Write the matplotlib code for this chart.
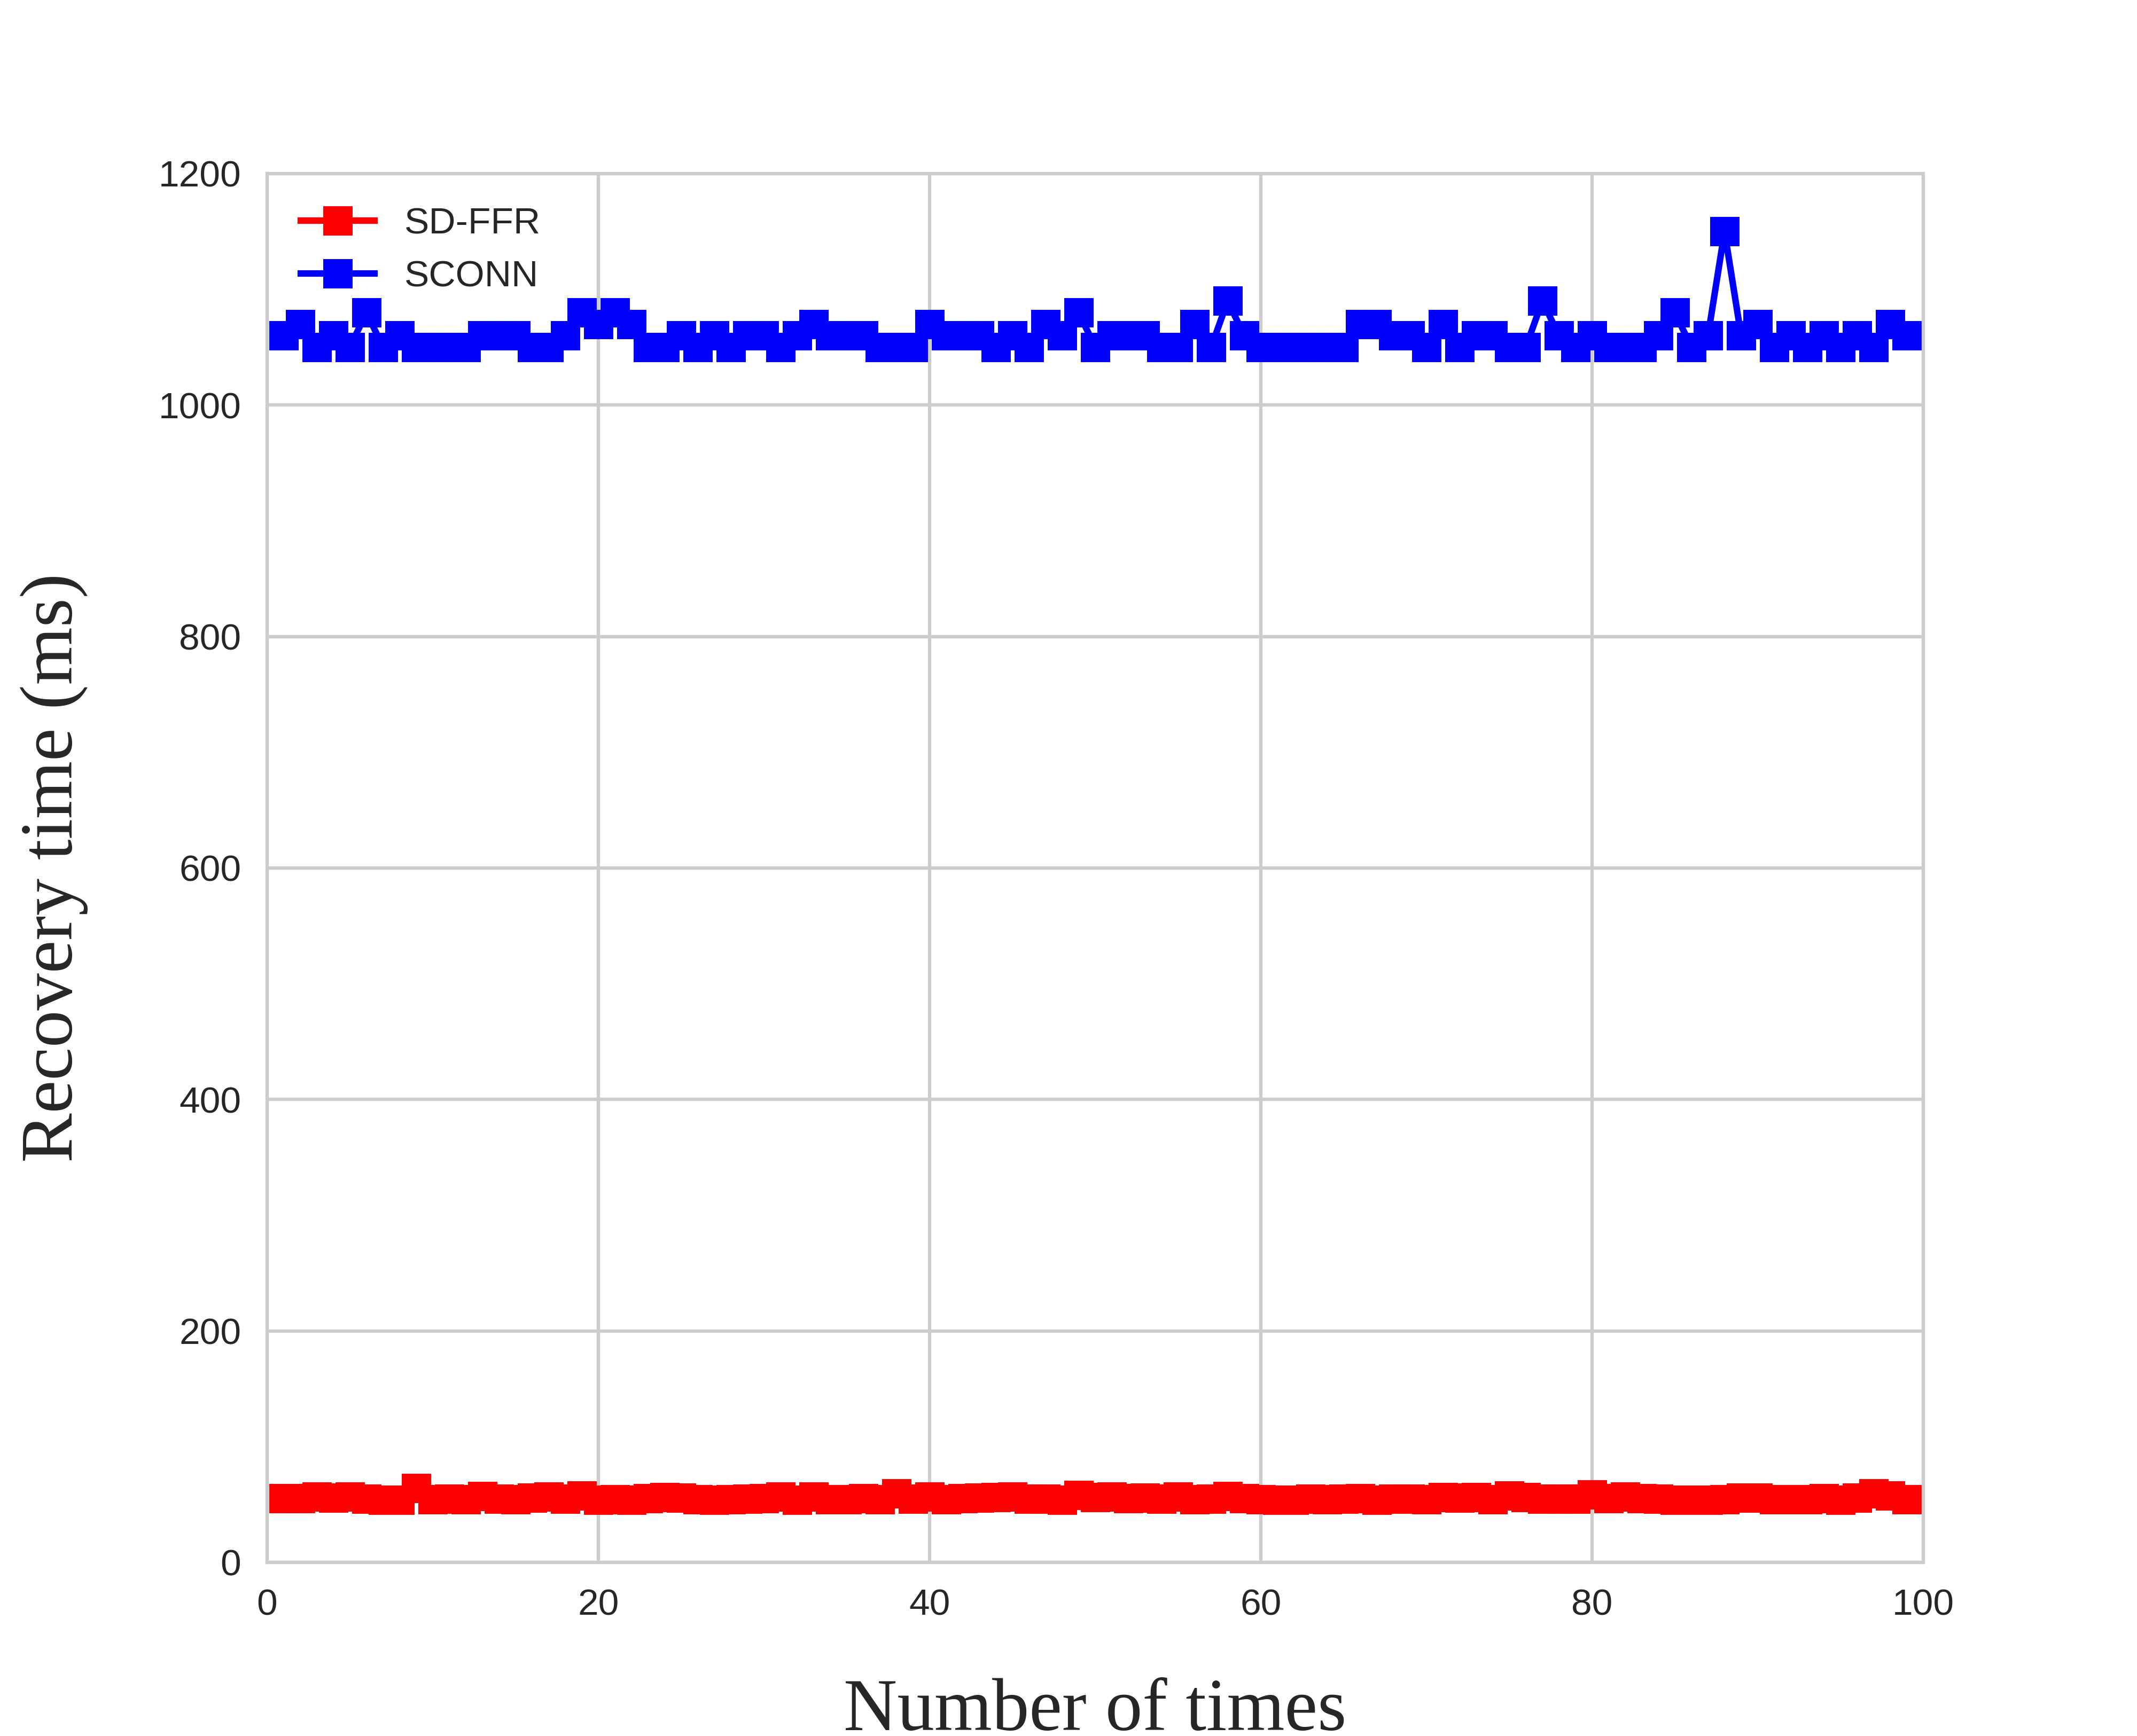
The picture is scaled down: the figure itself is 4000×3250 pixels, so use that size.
import matplotlib
matplotlib.use('Agg')
import matplotlib.pyplot as plt
import numpy as np

# runs 1..99
runs = np.arange(1, 100)

# recovery time (ms) per run
sd_ffr = [55.5, 55.5, 56.8, 55.9, 56.8, 55.0, 54.1, 54.1, 64.2, 54.5,
          55.0, 54.5, 57.2, 55.0, 54.5, 55.9, 56.8, 55.0, 57.7, 54.1,
          54.5, 54.1, 55.5, 56.3, 55.9, 54.5, 54.1, 54.5, 55.0, 55.2,
          56.8, 54.1, 56.8, 54.5, 54.5, 55.4, 54.5, 59.5, 55.0, 56.8,
          54.5, 55.5, 55.9, 56.3, 56.8, 55.0, 55.0, 54.1, 58.2, 56.3,
          56.8, 55.5, 55.9, 55.0, 56.8, 54.5, 55.0, 57.2, 55.5, 54.5,
          54.1, 54.1, 55.0, 54.5, 55.0, 55.5, 54.1, 55.0, 55.0, 54.5,
          56.3, 55.9, 56.3, 54.5, 57.7, 56.3, 55.0, 55.0, 55.0, 58.6,
          55.5, 56.8, 55.5, 55.0, 54.1, 54.1, 54.1, 54.5, 55.9, 55.9,
          54.5, 54.5, 54.5, 55.5, 54.1, 55.9, 59.5, 57.7, 54.5]

sconn = [1060, 1070, 1050, 1060, 1050, 1080, 1050, 1060, 1050, 1050,
         1050, 1050, 1060, 1060, 1060, 1050, 1050, 1060, 1080, 1070,
         1080, 1070, 1050, 1050, 1060, 1050, 1060, 1050, 1060, 1060,
         1050, 1060, 1070, 1060, 1060, 1060, 1050, 1050, 1050, 1070,
         1060, 1060, 1060, 1050, 1060, 1050, 1070, 1060, 1080, 1050,
         1060, 1060, 1060, 1050, 1050, 1070, 1050, 1090, 1060, 1050,
         1050, 1050, 1050, 1050, 1050, 1070, 1070, 1060, 1060, 1050,
         1070, 1050, 1060, 1060, 1050, 1050, 1090, 1060, 1050, 1060,
         1050, 1050, 1050, 1060, 1080, 1050, 1060, 1150, 1060, 1070,
         1050, 1060, 1050, 1060, 1050, 1060, 1050, 1070, 1060]

x_ticks = [0, 20, 40, 60, 80, 100]
y_ticks = [0, 200, 400, 600, 800, 1000, 1200]

text_col = '#262626'
grid_col = '#cccccc'

plt.rcParams['font.family'] = ['Liberation Sans', 'DejaVu Sans']

fig = plt.figure(figsize=(8, 6.5), dpi=500)
ax = fig.add_axes([0.125, 0.1, 0.775, 0.8])

ax.plot(runs, sd_ffr, color='red', marker='s', markersize=7, linewidth=1.75,
        label='SD-FFR')
ax.plot(runs, sconn, color='blue', marker='s', markersize=7, linewidth=1.75,
        label='SCONN')

ax.set_xlim(0, 100)
ax.set_ylim(0, 1200)
ax.set_xticks(x_ticks)
ax.set_yticks(y_ticks)
ax.grid(True, color=grid_col, linewidth=0.9)
ax.set_axisbelow(True)
for s in ax.spines.values():
    s.set_color(grid_col)
    s.set_linewidth(0.9)
ax.tick_params(length=0, pad=7, labelsize=10, colors=text_col)

ax.set_xlabel('Number of times', family='Liberation Serif', fontsize=20,
              color=text_col, labelpad=15)
ax.set_ylabel('Recovery time (ms)', family='Liberation Serif', fontsize=20,
              color=text_col, labelpad=19)

leg = ax.legend(loc='upper left', frameon=False, fontsize=10)
for t in leg.get_texts():
    t.set_color(text_col)

fig.savefig('out.png', dpi=500)
